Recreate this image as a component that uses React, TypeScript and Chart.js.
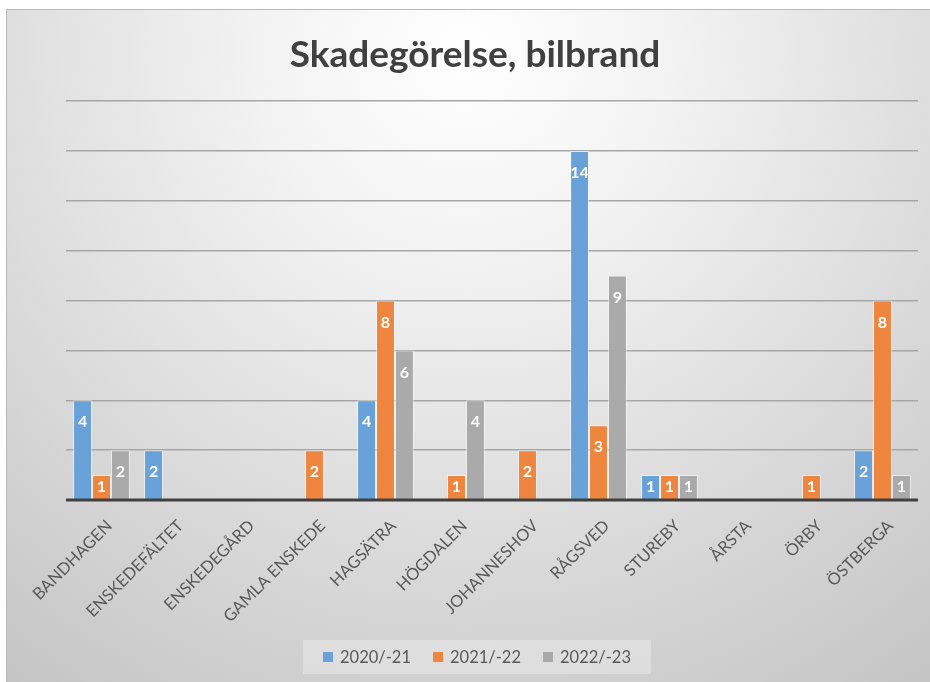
import React, { useEffect, useRef } from "react";
import { Chart, registerables } from "chart.js";

Chart.register(...registerables);

const TITLE = "Skadegörelse, bilbrand";
const CATEGORIES = [
  "BANDHAGEN",
  "ENSKEDEFÄLTET",
  "ENSKEDEGÅRD",
  "GAMLA ENSKEDE",
  "HAGSÄTRA",
  "HÖGDALEN",
  "JOHANNESHOV",
  "RÅGSVED",
  "STUREBY",
  "ÅRSTA",
  "ÖRBY",
  "ÖSTBERGA",
];
const SERIES_NAMES = ["2020/-21", "2021/-22", "2022/-23"];
const S2020 = [4, 2, null, null, 4, null, null, 14, 1, null, null, 2];
const S2021 = [1, null, null, 2, 8, 1, 2, 3, 1, null, 1, 8];
const S2022 = [2, null, null, null, 6, 4, null, 9, 1, null, null, 1];
const COLORS = ["#68a2d9", "#ee8640", "#aaaaaa"];
const Y_MAX = 16;
const Y_STEP = 2;

const FONT = "Lato, 'Open Sans', sans-serif";

const bgPlugin = {
  id: "bg",
  beforeDraw(chart: any) {
    const { ctx, width, height } = chart;
    ctx.save();
    const g = ctx.createRadialGradient(459, 40, 0, 459, 40, 800);
    g.addColorStop(0, "#ffffff");
    g.addColorStop(0.25, "#f3f3f3");
    g.addColorStop(1, "#c3c3c3");
    ctx.fillStyle = g;
    ctx.fillRect(0, 0, width, height);
    ctx.strokeStyle = "#b8b8b8";
    ctx.lineWidth = 1;
    ctx.beginPath();
    ctx.moveTo(0.5, height);
    ctx.lineTo(0.5, 0.5);
    ctx.lineTo(width, 0.5);
    ctx.stroke();

    // title
    ctx.fillStyle = "#404040";
    ctx.font = `bold 37px ${FONT}`;
    ctx.textAlign = "center";
    ctx.textBaseline = "alphabetic";
    ctx.fillText(TITLE, 469, 58);

    // legend
    ctx.font = `16.5px ${FONT}`;
    const sq = 10;
    const gapSq = 7;
    const gapItem = 22;
    const widths = SERIES_NAMES.map((n) => ctx.measureText(n).width);
    let total = 0;
    widths.forEach((w, i) => {
      total += sq + gapSq + w + (i < widths.length - 1 ? gapItem : 0);
    });
    const cx = 471;
    const boxPad = 20;
    ctx.fillStyle = "rgba(255,255,255,0.28)";
    ctx.fillRect(cx - total / 2 - boxPad, 631, total + boxPad * 2, 34);
    let x = cx - total / 2;
    const cy = 648;
    ctx.textAlign = "left";
    ctx.textBaseline = "middle";
    SERIES_NAMES.forEach((n, i) => {
      ctx.fillStyle = COLORS[i];
      ctx.fillRect(x, cy - sq / 2, sq, sq);
      x += sq + gapSq;
      ctx.fillStyle = "#595959";
      ctx.fillText(n, x, cy + 1);
      x += widths[i] + gapItem;
    });
    ctx.restore();
  },
};

const labelPlugin = {
  id: "barLabels",
  afterDatasetsDraw(chart: any) {
    const { ctx, chartArea } = chart;
    ctx.save();
    // axis line
    ctx.strokeStyle = "#404040";
    ctx.lineWidth = 3;
    ctx.beginPath();
    ctx.moveTo(chartArea.left, chartArea.bottom);
    ctx.lineTo(chartArea.right, chartArea.bottom);
    ctx.stroke();

    ctx.fillStyle = "#ffffff";
    ctx.font = `bold 16px ${FONT}`;
    ctx.textAlign = "center";
    ctx.textBaseline = "middle";
    chart.data.datasets.forEach((ds: any, di: number) => {
      const meta = chart.getDatasetMeta(di);
      meta.data.forEach((el: any, i: number) => {
        const v = ds.data[i];
        if (v === null || v === undefined) return;
        const h = el.base - el.y;
        const y = el.y + Math.min(22, h / 2);
        ctx.fillText(String(v), el.x, y);
      });
    });
    ctx.restore();
  },
};

export default function App() {
  const ref = useRef<HTMLCanvasElement>(null);
  useEffect(() => {
    if (!ref.current) return;
    const chart = new Chart(ref.current, {
      type: "bar",
      data: {
        labels: CATEGORIES,
        datasets: [S2020, S2021, S2022].map((d, i) => ({
          label: SERIES_NAMES[i],
          data: d,
          backgroundColor: COLORS[i],
          borderColor: "rgba(255,255,255,0.55)",
          borderWidth: 1,
          categoryPercentage: 0.8,
          barPercentage: 1.0,
        })),
      },
      options: {
        animation: false,
        responsive: false,
        layout: { padding: { top: 92, left: 60, right: 12, bottom: 0 } },
        plugins: {
          legend: { display: false },
          title: { display: false },
          tooltip: { enabled: false },
        },
        scales: {
          x: {
            grid: { display: false },
            border: { display: false },
            ticks: {
              minRotation: 45,
              maxRotation: 45,
              autoSkip: false,
              padding: 8,
              labelOffset: 8,
              color: "#595959",
              font: { family: FONT, size: 16.5 },
            },
            afterFit(scale: any) {
              scale.height = 182;
            },
          },
          y: {
            min: 0,
            max: Y_MAX,
            ticks: { display: false, stepSize: Y_STEP },
            grid: { color: "#a6a6a6", lineWidth: 1.5, drawTicks: false },
            border: { display: false },
            afterFit(scale: any) {
              scale.width = 0;
            },
          },
        },
      },
      plugins: [bgPlugin, labelPlugin],
    } as any);
    return () => chart.destroy();
  }, []);
  return (
    <div style={{ position: "absolute", left: 6, top: 9, width: 924, height: 673 }}>
      <canvas ref={ref} width={924} height={673} />
    </div>
  );
}
